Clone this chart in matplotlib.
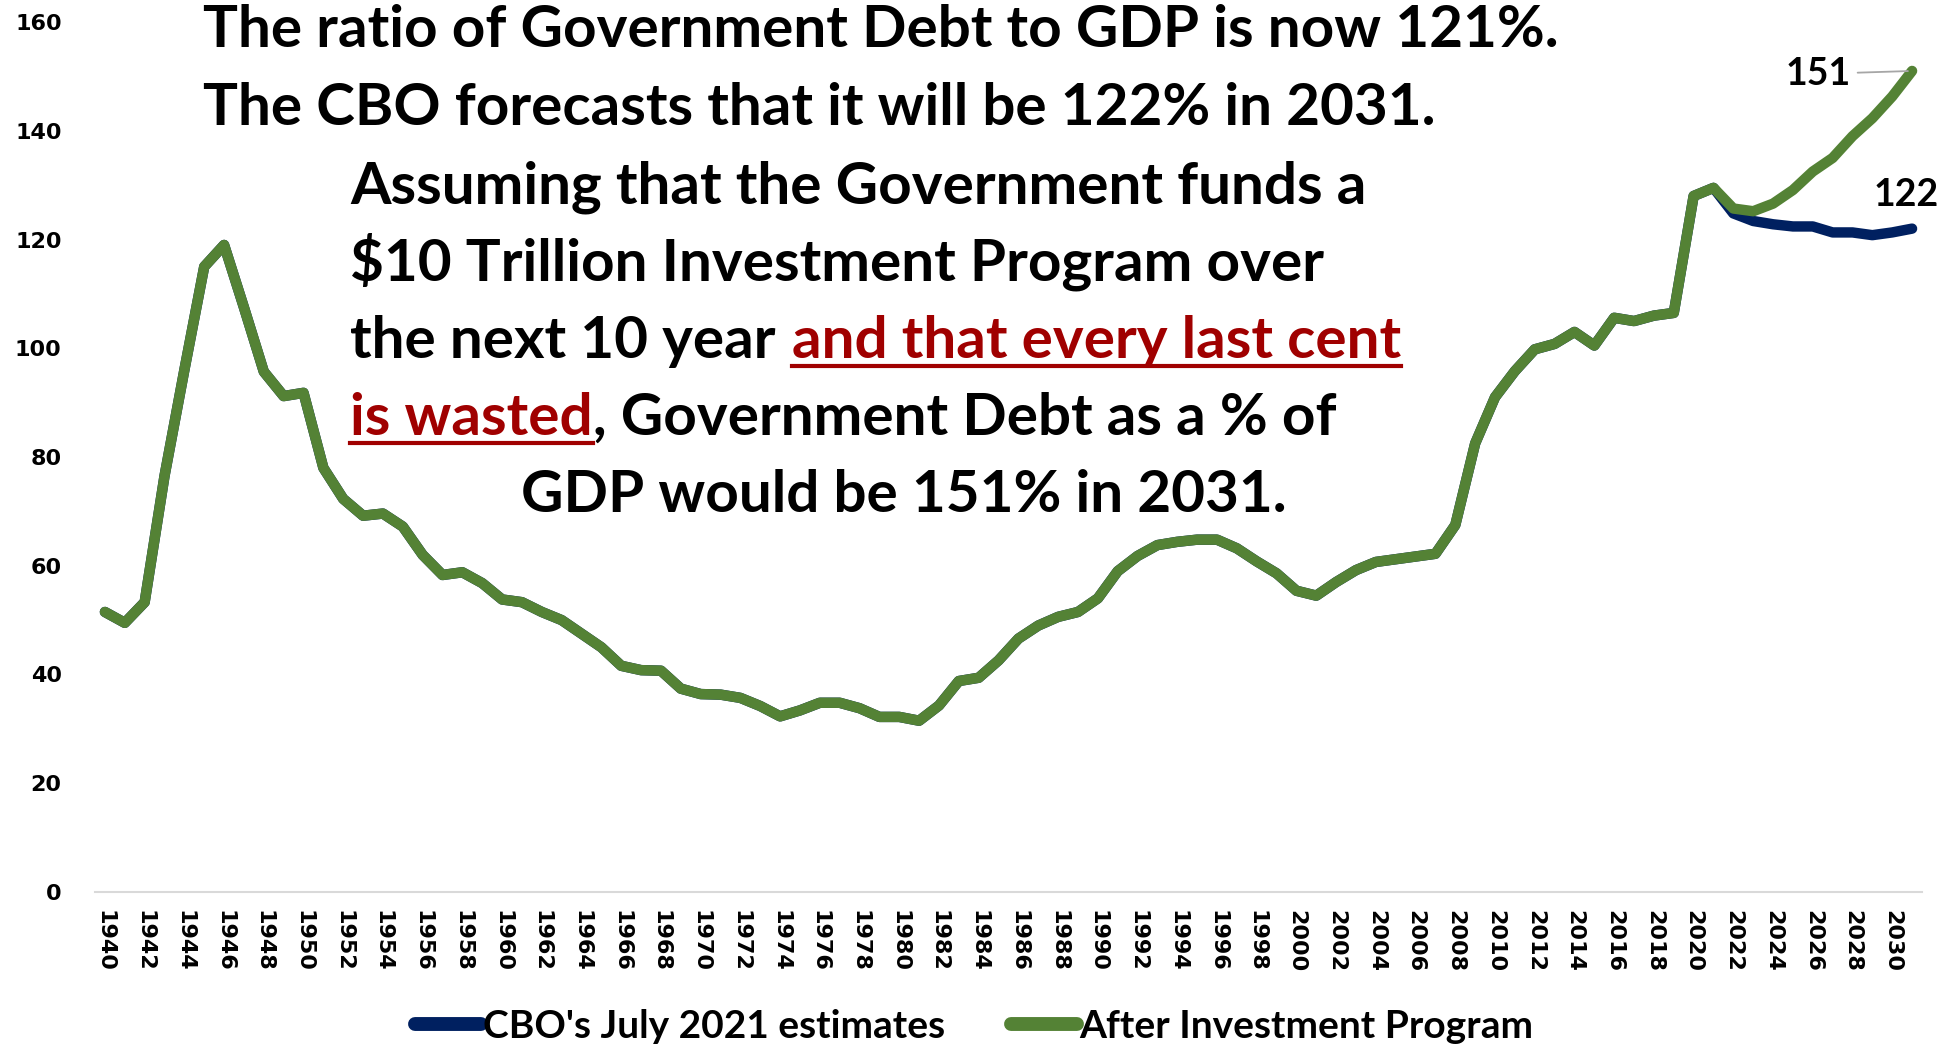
import matplotlib
matplotlib.use("Agg")
import matplotlib.pyplot as plt
from matplotlib.lines import Line2D

# Government debt as % of GDP, 1940-2031
years = list(range(1940, 2032))
history = [
    51.5, 49.5, 53.3, 76.5, 96.0, 115.0, 119.0, 107.5, 95.7, 91.2,   # 1940s
    91.8, 78.0, 72.3, 69.2, 69.6, 67.2, 62.0, 58.3, 58.8, 56.8,      # 1950s
    53.8, 53.3, 51.5, 50.0, 47.5, 45.0, 41.6, 40.8, 40.7, 37.4,      # 1960s
    36.4, 36.3, 35.7, 34.2, 32.3, 33.4, 34.8, 34.8, 33.8, 32.2,      # 1970s
    32.2, 31.5, 34.3, 38.8, 39.4, 42.6, 46.6, 49.0, 50.6, 51.5,      # 1980s
    54.0, 59.0, 61.8, 63.8, 64.4, 64.8, 64.8, 63.2, 60.8, 58.6,      # 1990s
    55.4, 54.5, 57.0, 59.2, 60.7, 61.2, 61.7, 62.2, 67.5, 82.5,      # 2000s
    91.0, 95.8, 99.8, 100.8, 103.0, 100.5, 105.6, 105.0, 106.0, 106.5,  # 2010s
    128.0, 129.5,                                                     # 2020-2021
]
cbo_forecast = [124.8, 123.4, 122.8, 122.4, 122.4, 121.3, 121.3, 120.8, 121.3, 122.0]
invest_forecast = [125.7, 125.2, 126.6, 129.1, 132.5, 135.0, 139.0, 142.3, 146.3, 151.0]

cbo = history + cbo_forecast
invest = history + invest_forecast

W, H = 1954, 1045
fig = plt.figure(figsize=(W / 100, H / 100), dpi=100)
ax = fig.add_axes([95 / W, 1 - 892 / H, (1922 - 95) / W, (892 - 22) / H])

navy = "#002060"
green = "#548235"
ax.plot(years, cbo, color=navy, lw=7.5, solid_capstyle="round", solid_joinstyle="round",
        label="CBO's July 2021 estimates")
ax.plot(years, invest, color=green, lw=7.5, solid_capstyle="round", solid_joinstyle="round",
        label="After Investment Program")

ax.set_xlim(1939.5, 2031.5)
ax.set_ylim(0, 160)
ax.set_yticks(range(0, 161, 20))
ax.set_xticks(range(1940, 2031, 2))
ax.set_xticklabels([str(y) for y in range(1940, 2031, 2)], rotation=-90)
ax.tick_params(axis="y", length=0, pad=24, labelsize=16)
ax.tick_params(axis="x", length=0, pad=13, labelsize=16)
for lab in ax.get_xticklabels() + ax.get_yticklabels():
    lab.set_fontweight("bold")
    lab.set_family("DejaVu Sans")
for s in ["top", "right", "left"]:
    ax.spines[s].set_visible(False)
ax.spines["bottom"].set_color("#D9D9D9")
ax.spines["bottom"].set_linewidth(1.5)

# end-point labels
ax.annotate("151", xy=(years[-1], invest[-1]), xytext=(-94, -3), textcoords="offset pixels",
            ha="center", va="center", fontsize=27, fontweight="bold", family="Lato",
            arrowprops=dict(arrowstyle="-", color="#A6A6A6", lw=1.3, shrinkA=3, shrinkB=3))
ax.annotate("122", xy=(years[-1], cbo[-1]), xytext=(-6, 34), textcoords="offset pixels",
            ha="center", va="center", fontsize=27, fontweight="bold", family="Lato")

# legend along the bottom edge
leg = fig.legend(loc="center", bbox_to_anchor=(0.4985, 1 - 1026 / H), ncol=2, frameon=False,
                 handlelength=1.7, handletextpad=0.05, columnspacing=1.7,
                 prop=dict(family=["Liberation Sans Narrow", "Lato"], weight="bold", size=28))
for ln in leg.get_lines():
    ln.set_linewidth(10)
    ln.set_solid_capstyle("round")

# headline text block
FS = 42
dark_red = "#A00000"
renderer = fig.canvas.get_renderer()


def text_line(x_px, base_px, parts):
    x = x_px
    for i, (s, color, underline) in enumerate(parts):
        t = fig.text(x / W, 1 - base_px / H, s, color=color, fontsize=FS, fontweight="bold",
                     family="Lato", ha="left", va="baseline")
        bb = t.get_window_extent(renderer)
        if underline:
            uy = (H - base_px - 8) / H
            fig.add_artist(Line2D([bb.x0 / W, bb.x1 / W], [uy, uy], color=color, lw=3,
                                  transform=fig.transFigure))
        x = bb.x1
        if i + 1 < len(parts) and not parts[i + 1][0].startswith(","):
            x += 0.28 * FS * 100 / 72


text_line(203, 47, [("The ratio of Government Debt to GDP is now 121%.", "black", False)])
text_line(203, 125, [("The CBO forecasts that it will be 122% in 2031.", "black", False)])
text_line(350, 203, [("Assuming that the Government funds a", "black", False)])
text_line(350, 280, [("$10 Trillion Investment Program over", "black", False)])
text_line(350, 358, [("the next 10 year", "black", False),
                     ("and that every last cent", dark_red, True)])
text_line(350, 435, [("is wasted", dark_red, True),
                     (", Government Debt as a % of", "black", False)])
text_line(521, 512, [("GDP would be 151% in 2031.", "black", False)])

fig.savefig("out.png", dpi=100)
